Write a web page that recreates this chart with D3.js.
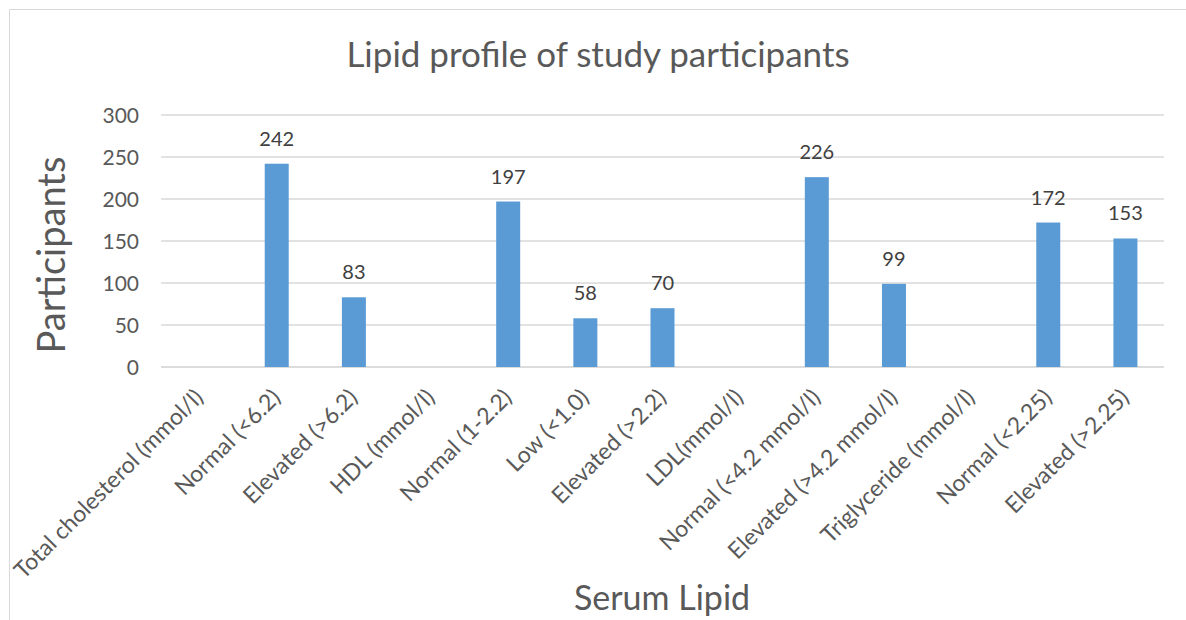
<!DOCTYPE html>
<html><head><meta charset="utf-8">
<script src="https://cdn.jsdelivr.net/npm/d3@7/dist/d3.min.js"></script>
<style>body{margin:0;background:#fff}svg{display:block}text{font-family:Lato,"Open Sans",sans-serif}</style>
</head><body>
<svg id="c" width="1186" height="620"></svg>
<script>
const categories = ["Total cholesterol (mmol/l)","Normal (<6.2)","Elevated (>6.2)","HDL (mmol/l)","Normal (1-2.2)","Low (<1.0)","Elevated (>2.2)","LDL(mmol/l)","Normal (<4.2 mmol/l)","Elevated (>4.2 mmol/l)","Triglyceride (mmol/l)","Normal (<2.25)","Elevated (>2.25)"];
const values = [null,242,83,null,197,58,70,null,226,99,null,172,153];
const yTicks = [0,50,100,150,200,250,300];

const svg = d3.select("#c");
const L=161,R=1164,T=115,B=367;
svg.append("path").attr("d","M9.5,620 L9.5,9.5 L1186,9.5").attr("fill","none").attr("stroke","#d9d9d9");

const x = d3.scaleBand().domain(categories).range([L,R]).paddingInner(0).paddingOuter(0);
const y = d3.scaleLinear().domain([0,300]).range([B,T]);

svg.append("g").selectAll("line").data(yTicks).join("line")
  .attr("x1",L).attr("x2",R).attr("y1",d=>y(d)).attr("y2",d=>y(d))
  .attr("stroke",d=>d===0?"#d0d0d0":"#d9d9d9").attr("stroke-width",1.5);

const yAxis = d3.axisLeft(y).tickValues(yTicks).tickSize(0).tickPadding(0);
const gy = svg.append("g").attr("transform",`translate(${L-22},0)`).call(yAxis);
gy.select(".domain").remove();
gy.selectAll("text").attr("font-size",21).attr("fill","#595959").attr("dy","0.35em");

const bw = 24;
const bars = categories.map((c,i)=>({c,v:values[i]})).filter(d=>d.v!==null);
svg.append("g").selectAll("rect").data(bars).join("rect")
  .attr("x",d=>x(d.c)+x.bandwidth()/2-bw/2).attr("width",bw)
  .attr("y",d=>y(d.v)).attr("height",d=>y(0)-y(d.v)).attr("fill","#5b9bd5");

svg.append("g").selectAll("text").data(bars).join("text")
  .attr("x",d=>x(d.c)+x.bandwidth()/2).attr("y",d=>y(d.v)-18)
  .attr("text-anchor","middle").attr("font-size",20).attr("fill","#404040").text(d=>d.v);

const xAxis = d3.axisBottom(x).tickSize(0).tickPadding(0);
const gx = svg.append("g").attr("transform",`translate(0,${B})`).call(xAxis);
gx.select(".domain").remove();
gx.selectAll("text").attr("font-size",23).attr("fill","#595959")
  .attr("text-anchor","end").attr("dy","0")
  .attr("transform","translate(5,32) rotate(-45)");

svg.append("text").attr("x",598).attr("y",67).attr("text-anchor","middle")
  .attr("font-size",35).attr("fill","#595959").text("Lipid profile of study participants");
svg.append("text").attr("transform","translate(65,255) rotate(-90)").attr("text-anchor","middle")
  .attr("font-size",38).attr("fill","#595959").text("Participants");
svg.append("text").attr("x",662).attr("y",610).attr("text-anchor","middle")
  .attr("font-size",34).attr("fill","#595959").text("Serum Lipid");
</script>
</body></html>
